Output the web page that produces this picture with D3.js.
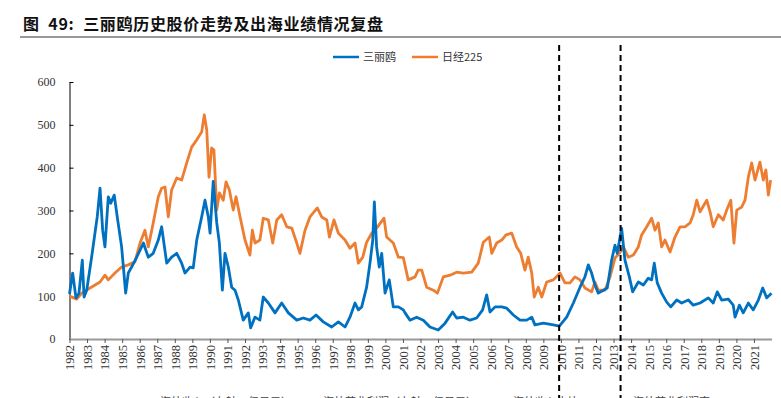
<!DOCTYPE html>
<html>
<head>
<meta charset="utf-8">
<script src="https://cdn.jsdelivr.net/npm/d3@7"></script>
<style>
  body { margin: 0; background: #fff; }
  svg { display: block; }
</style>
</head>
<body>
<svg id="chart" width="781" height="398"></svg>
<script>
var title = "图  49:  三丽鸥历史股价走势及出海业绩情况复盘";
var seriesNames = ["三丽鸥", "日经225"];
var seriesColors = ["#0070C0", "#ED7D31"];
var yTicks = [0, 100, 200, 300, 400, 500, 600];
var years = d3.range(1982, 2022);
var markerYears = [2009.9, 2013.4];
var footNotes = ["海外收入（左轴，亿日元）", "海外营业利润（左轴，亿日元）", "海外收入占比", "海外营业利润率"];

// 三丽鸥 (indexed, 1982 = 100)
var sanrioDates = [1982.0, 1982.18, 1982.37, 1982.54, 1982.73, 1982.83, 1982.98, 1983.26, 1983.45, 1983.58,
  1983.74, 1983.89, 1984.02, 1984.21, 1984.35, 1984.55, 1984.72, 1984.97, 1985.2, 1985.35,
  1985.54, 1985.83, 1986.21, 1986.49, 1986.77, 1987.06, 1987.25, 1987.54, 1987.82, 1988.11,
  1988.39, 1988.58, 1988.87, 1989.05, 1989.25, 1989.53, 1989.72, 1989.91, 1990.01, 1990.19,
  1990.39, 1990.54, 1990.71, 1990.86, 1991.05, 1991.24, 1991.43, 1991.62, 1991.9, 1992.19,
  1992.32, 1992.57, 1992.85, 1993.04, 1993.33, 1993.71, 1994.09, 1994.47, 1994.95, 1995.32,
  1995.7, 1996.05, 1996.46, 1996.94, 1997.32, 1997.7, 1997.98, 1998.27, 1998.46, 1998.65,
  1998.93, 1999.12, 1999.28, 1999.37, 1999.5, 1999.65, 1999.79, 1999.98, 2000.22, 2000.45,
  2000.74, 2001.02, 2001.12, 2001.4, 2001.78, 2002.16, 2002.54, 2003.01, 2003.4, 2003.83,
  2004.06, 2004.44, 2004.82, 2005.2, 2005.54, 2005.77, 2005.96, 2006.25, 2006.63, 2006.91,
  2007.29, 2007.67, 2008.05, 2008.34, 2008.52, 2009.0, 2009.57, 2009.91, 2010.33, 2010.71,
  2011.09, 2011.37, 2011.56, 2011.75, 2011.94, 2012.13, 2012.42, 2012.64, 2012.89, 2013.08,
  2013.21, 2013.46, 2013.65, 2013.9, 2014.09, 2014.41, 2014.7, 2014.98, 2015.17, 2015.32,
  2015.49, 2015.74, 2016.03, 2016.26, 2016.6, 2016.88, 2017.26, 2017.54, 2017.93, 2018.4,
  2018.68, 2018.91, 2019.16, 2019.54, 2019.82, 2019.92, 2020.17, 2020.39, 2020.68, 2020.96,
  2021.25, 2021.5, 2021.73, 2022.0];
var sanrioValues = [105, 154, 96, 107, 184, 98, 114, 191, 247, 285,
  352, 254, 215, 332, 317, 336, 285, 215, 107, 154,
  168, 191, 224, 191, 200, 231, 262, 177, 191, 200,
  177, 154, 168, 166, 231, 285, 324, 285, 247, 368,
  271, 224, 114, 200, 168, 121, 114, 91, 44, 61,
  26, 51, 44, 98, 84, 61, 84, 61, 44, 49,
  44, 56, 40, 28, 40, 28, 51, 84, 68, 75,
  121, 177, 231, 320, 215, 168, 200, 107, 138, 75,
  75, 68, 61, 44, 51, 44, 28, 21, 37, 63,
  49, 51, 44, 49, 68, 103, 63, 75, 75, 72,
  56, 44, 44, 51, 33, 37, 33, 30, 51, 84,
  121, 145, 173, 154, 126, 107, 114, 119, 184, 219,
  200, 259, 184, 145, 110, 133, 126, 142, 138, 177,
  131, 107, 86, 75, 91, 84, 91, 79, 84, 96,
  84, 110, 91, 93, 79, 51, 79, 61, 84, 68,
  91, 119, 96, 107];

// 日经225 (indexed, 1982 = 100)
var nikkeiDates = [1982.0, 1982.41, 1982.7, 1983.17, 1983.74, 1984.02, 1984.21, 1984.59, 1984.97, 1985.35,
  1985.73, 1986.02, 1986.3, 1986.49, 1986.77, 1987.06, 1987.25, 1987.44, 1987.63, 1987.82,
  1988.11, 1988.39, 1988.68, 1988.96, 1989.25, 1989.53, 1989.68, 1989.82, 1989.95, 1990.1,
  1990.23, 1990.39, 1990.54, 1990.76, 1990.92, 1991.11, 1991.33, 1991.49, 1991.72, 1992.0,
  1992.28, 1992.42, 1992.57, 1992.85, 1993.04, 1993.33, 1993.58, 1993.81, 1994.09, 1994.38,
  1994.66, 1994.95, 1995.13, 1995.42, 1995.7, 1996.12, 1996.37, 1996.66, 1996.81, 1997.07,
  1997.32, 1997.7, 1997.98, 1998.27, 1998.46, 1998.71, 1998.93, 1999.22, 1999.5, 1999.92,
  2000.07, 2000.45, 2000.74, 2001.02, 2001.3, 2001.69, 2001.87, 2002.07, 2002.35, 2002.73,
  2002.96, 2003.3, 2003.68, 2004.06, 2004.44, 2004.92, 2005.29, 2005.58, 2005.92, 2006.06,
  2006.34, 2006.63, 2006.87, 2007.2, 2007.48, 2007.71, 2007.95, 2008.14, 2008.34, 2008.48,
  2008.71, 2008.91, 2009.19, 2009.57, 2009.95, 2010.23, 2010.52, 2010.8, 2011.09, 2011.37,
  2011.75, 2011.94, 2012.13, 2012.51, 2012.8, 2013.08, 2013.33, 2013.56, 2013.84, 2014.13,
  2014.41, 2014.6, 2014.89, 2015.17, 2015.36, 2015.55, 2015.74, 2015.93, 2016.22, 2016.5,
  2016.79, 2017.07, 2017.36, 2017.54, 2017.74, 2017.93, 2018.31, 2018.5, 2018.68, 2018.97,
  2019.25, 2019.45, 2019.68, 2019.86, 2020.02, 2020.3, 2020.49, 2020.68, 2020.87, 2021.06,
  2021.34, 2021.53, 2021.68, 2021.82, 2021.95];
var nikkeiValues = [100, 93, 107, 119, 133, 149, 138, 154, 168, 173,
  180, 224, 254, 215, 271, 332, 352, 355, 285, 348,
  376, 371, 411, 448, 465, 483, 523, 488, 378, 446,
  441, 301, 341, 324, 367, 348, 301, 332, 285, 231,
  196, 254, 224, 231, 282, 278, 224, 278, 290, 262,
  259, 224, 200, 254, 285, 306, 285, 278, 238, 278,
  247, 231, 212, 224, 177, 191, 226, 247, 259, 282,
  238, 224, 191, 190, 138, 145, 161, 161, 121, 114,
  107, 145, 149, 156, 154, 156, 177, 226, 238, 200,
  224, 231, 243, 247, 215, 200, 161, 191, 154, 98,
  121, 98, 133, 138, 154, 131, 131, 145, 138, 119,
  110, 133, 114, 114, 145, 189, 200, 215, 191, 196,
  215, 243, 262, 282, 254, 271, 215, 231, 203, 238,
  262, 262, 271, 290, 324, 297, 324, 297, 262, 290,
  278, 301, 324, 224, 301, 308, 324, 378, 411, 371,
  413, 371, 395, 336, 371];

var margin = {left: 69.5, right: 9.5, top: 82, bottom: 59};
var width = 781, height = 398;

var svg = d3.select("#chart");

var xScale = d3.scaleLinear()
  .domain([1982, 2022])
  .range([margin.left, width - margin.right]);
var yScale = d3.scaleLinear()
  .domain([0, 600])
  .range([height - margin.bottom, margin.top]);

// title + rule
svg.append("text")
  .attr("x", 23).attr("y", 30)
  .attr("font-family", "'Noto Sans CJK SC', sans-serif")
  .attr("font-weight", "bold")
  .attr("font-size", 16)
  .attr("fill", "#111")
  .attr("textLength", 360)
  .attr("lengthAdjust", "spacing")
  .attr("xml:space", "preserve")
  .style("white-space", "pre")
  .text(title);
svg.append("line")
  .attr("x1", 20).attr("x2", width).attr("y1", 37).attr("y2", 37)
  .attr("stroke", "#333").attr("stroke-width", 1);

// legend
var legendX = [333, 412];
seriesNames.forEach(function(name, i) {
  var g = svg.append("g").attr("transform", "translate(" + legendX[i] + ",57)");
  g.append("line").attr("x1", 0).attr("x2", 26).attr("y1", 0).attr("y2", 0)
    .attr("stroke", seriesColors[i]).attr("stroke-width", 2.5);
  g.append("text").attr("x", 30).attr("y", 4)
    .attr("font-family", "'Noto Sans CJK SC', sans-serif")
    .attr("font-size", 11).attr("fill", "#333")
    .text(name);
});

// y axis
var yAxis = svg.append("g")
  .attr("transform", "translate(" + margin.left + ",0)")
  .call(d3.axisLeft(yScale).tickValues(yTicks).tickSizeInner(-4).tickSizeOuter(0).tickPadding(14));
yAxis.select(".domain").attr("stroke", "#000");
yAxis.selectAll("line").attr("stroke", "#000");
yAxis.selectAll("text")
  .attr("font-family", "'Liberation Serif', 'Times New Roman', serif")
  .attr("font-size", 12).attr("fill", "#333");

// x axis
var xAxis = svg.append("g")
  .attr("transform", "translate(0," + yScale(0) + ")")
  .call(d3.axisBottom(xScale).tickValues(years).tickFormat(d3.format("d")).tickSizeInner(4).tickSizeOuter(0));
xAxis.select(".domain").attr("stroke", "#999").attr("stroke-width", 2);
xAxis.selectAll("line").attr("stroke", "#555");
xAxis.selectAll("text")
  .attr("font-family", "'Liberation Serif', 'Times New Roman', serif")
  .attr("font-size", 12.5).attr("fill", "#333")
  .attr("text-anchor", "end")
  .attr("transform", "rotate(-90)")
  .attr("x", -6).attr("y", 0).attr("dy", "0.35em");

// lines
var line = d3.line()
  .x(function(d) { return xScale(d[0]); })
  .y(function(d) { return yScale(d[1]); });

var sanrio = d3.zip(sanrioDates, sanrioValues);
var nikkei = d3.zip(nikkeiDates, nikkeiValues);

svg.append("path").datum(nikkei)
  .attr("d", line).attr("fill", "none")
  .attr("stroke", seriesColors[1]).attr("stroke-width", 2.8)
  .attr("stroke-linejoin", "round");
svg.append("path").datum(sanrio)
  .attr("d", line).attr("fill", "none")
  .attr("stroke", seriesColors[0]).attr("stroke-width", 2.8)
  .attr("stroke-linejoin", "round");

// dashed markers
svg.selectAll(".marker")
  .data(markerYears)
  .enter().append("line")
  .attr("class", "marker")
  .attr("x1", function(d) { return xScale(d); })
  .attr("x2", function(d) { return xScale(d); })
  .attr("y1", 45).attr("y2", height)
  .attr("stroke", "#000").attr("stroke-width", 2)
  .attr("stroke-dasharray", "6,4");

// cut-off legend of the next panel at the very bottom
var footX = [160, 323, 513, 633];
footNotes.forEach(function(t, i) {
  svg.append("text")
    .attr("x", footX[i]).attr("y", 406)
    .attr("font-family", "'Noto Sans CJK SC', sans-serif")
    .attr("font-size", 11).attr("fill", "#444")
    .text(t);
});
</script>
</body>
</html>
